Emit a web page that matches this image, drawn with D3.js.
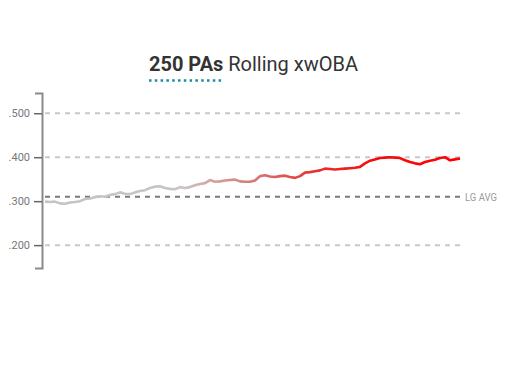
<!DOCTYPE html>
<html>
<head>
<meta charset="utf-8">
<script src="https://cdn.jsdelivr.net/npm/d3@7"></script>
<style>
  body { margin: 0; background: #fff; }
  text { font-family: Roboto, "Liberation Sans", sans-serif; }
</style>
</head>
<body>
<div class="canvas"></div>
<script>
// rolling xwOBA, one value every few PAs
const xwoba = [
  .299, .298, .299, .295, .294, .297, .298, .300, .305, .306,
  .309, .311, .310, .314, .316, .320, .317, .316, .320, .323,
  .325, .330, .333, .334, .330, .328, .327, .332, .330, .332,
  .336, .339, .341, .348, .344, .345, .347, .348, .349, .345,
  .344, .344, .347, .357, .359, .356, .355, .357, .358, .355,
  .353, .357, .365, .366, .368, .370, .374, .373, .372, .373,
  .374, .375, .376, .378, .386, .392, .395, .398, .399, .400,
  .399, .398, .393, .389, .386, .384, .389, .392, .394, .398,
  .400, .393, .395, .397
]
const yTicks = [.2, .3, .4, .5]
const gridValues = [.2, .4, .5]
const leagueAvg = .310

const svgWidth = 510
const svgHeight = 377
const margin = {top: 91, right: 50, bottom: 110, left: 42}

const svg = d3.select('.canvas')
    .append('svg')
    .attr('width', svgWidth)
    .attr('height', svgHeight)

const graphWidth = 460 - margin.left
const graph = svg.append('g')
    .attr('transform', `translate(${margin.left}, 0)`)

const x = d3.scaleLinear().domain([0, xwoba.length - 1]).range([3, graphWidth])
const y = d3.scaleLinear().domain([.148, .546]).range([268, 93])

// title
const title = svg.append('text')
    .attr('x', 149)
    .attr('y', 71)
    .attr('font-size', 21)
    .attr('fill', '#333')
    .attr('textLength', 209)
    .attr('lengthAdjust', 'spacingAndGlyphs')
title.append('tspan').attr('font-weight', 'bold').text('250 PAs')
title.append('tspan').text(' Rolling xwOBA')

svg.append('line')
    .attr('x1', 149).attr('x2', 224)
    .attr('y1', 80.5).attr('y2', 80.5)
    .attr('stroke', '#1d8aa0')
    .attr('stroke-width', 2.5)
    .attr('stroke-dasharray', '2.5,3.3')

// grid lines
graph.selectAll('.grid')
    .data(gridValues)
    .enter().append('line')
    .attr('class', 'grid')
    .attr('x1', 3).attr('x2', graphWidth)
    .attr('y1', d => y(d)).attr('y2', d => y(d))
    .attr('stroke', '#c8c8c8')
    .attr('stroke-width', 2)
    .attr('stroke-dasharray', '5,5')

// league average
graph.append('line')
    .attr('x1', 3).attr('x2', graphWidth)
    .attr('y1', y(leagueAvg)).attr('y2', y(leagueAvg))
    .attr('stroke', '#7a7a7a')
    .attr('stroke-width', 2)
    .attr('stroke-dasharray', '5,5')

graph.append('text')
    .attr('x', graphWidth + 5)
    .attr('y', y(leagueAvg) + 4)
    .attr('font-size', 10)
    .attr('fill', '#9a9a9a')
    .attr('textLength', 32)
    .attr('lengthAdjust', 'spacingAndGlyphs')
    .text('LG AVG')

// y axis
const yAxis = d3.axisLeft(y)
    .tickValues(yTicks)
    .tickSize(8)
    .tickSizeOuter(7)
    .tickPadding(4)
    .tickFormat(d => d3.format('.3f')(d).replace(/^0/, ''))

const yAxisGroup = graph.append('g').call(yAxis)
yAxisGroup.select('.domain')
    .attr('stroke', '#8a8a8a')
    .attr('stroke-width', 2)
yAxisGroup.selectAll('.tick line')
    .attr('stroke', '#666')
    .attr('stroke-width', 1.5)
yAxisGroup.selectAll('text')
    .attr('font-size', 11)
    .attr('fill', '#777')
    .attr('font-family', 'Roboto, sans-serif')

// gradient gray -> red along x
const grad = svg.append('defs').append('linearGradient')
    .attr('id', 'lineGrad')
    .attr('gradientUnits', 'userSpaceOnUse')
    .attr('x1', x(0)).attr('x2', x(xwoba.length - 1))
    .attr('y1', 0).attr('y2', 0)
const stops = [
  [0, '#c4c4c4'], [0.33, '#c8c4c4'], [0.42, '#d49a9a'],
  [0.52, '#d77070'], [0.65, '#e83030'], [0.8, '#f50c0c'], [1, '#ff0000']
]
grad.selectAll('stop').data(stops).enter().append('stop')
    .attr('offset', d => d[0])
    .attr('stop-color', d => d[1])

const line = d3.line()
    .x((d, i) => x(i))
    .y(d => y(d))

graph.append('path')
    .datum(xwoba)
    .attr('fill', 'none')
    .attr('stroke', 'url(#lineGrad)')
    .attr('stroke-width', 2.6)
    .attr('stroke-linejoin', 'round')
    .attr('d', line)
</script>
</body>
</html>
